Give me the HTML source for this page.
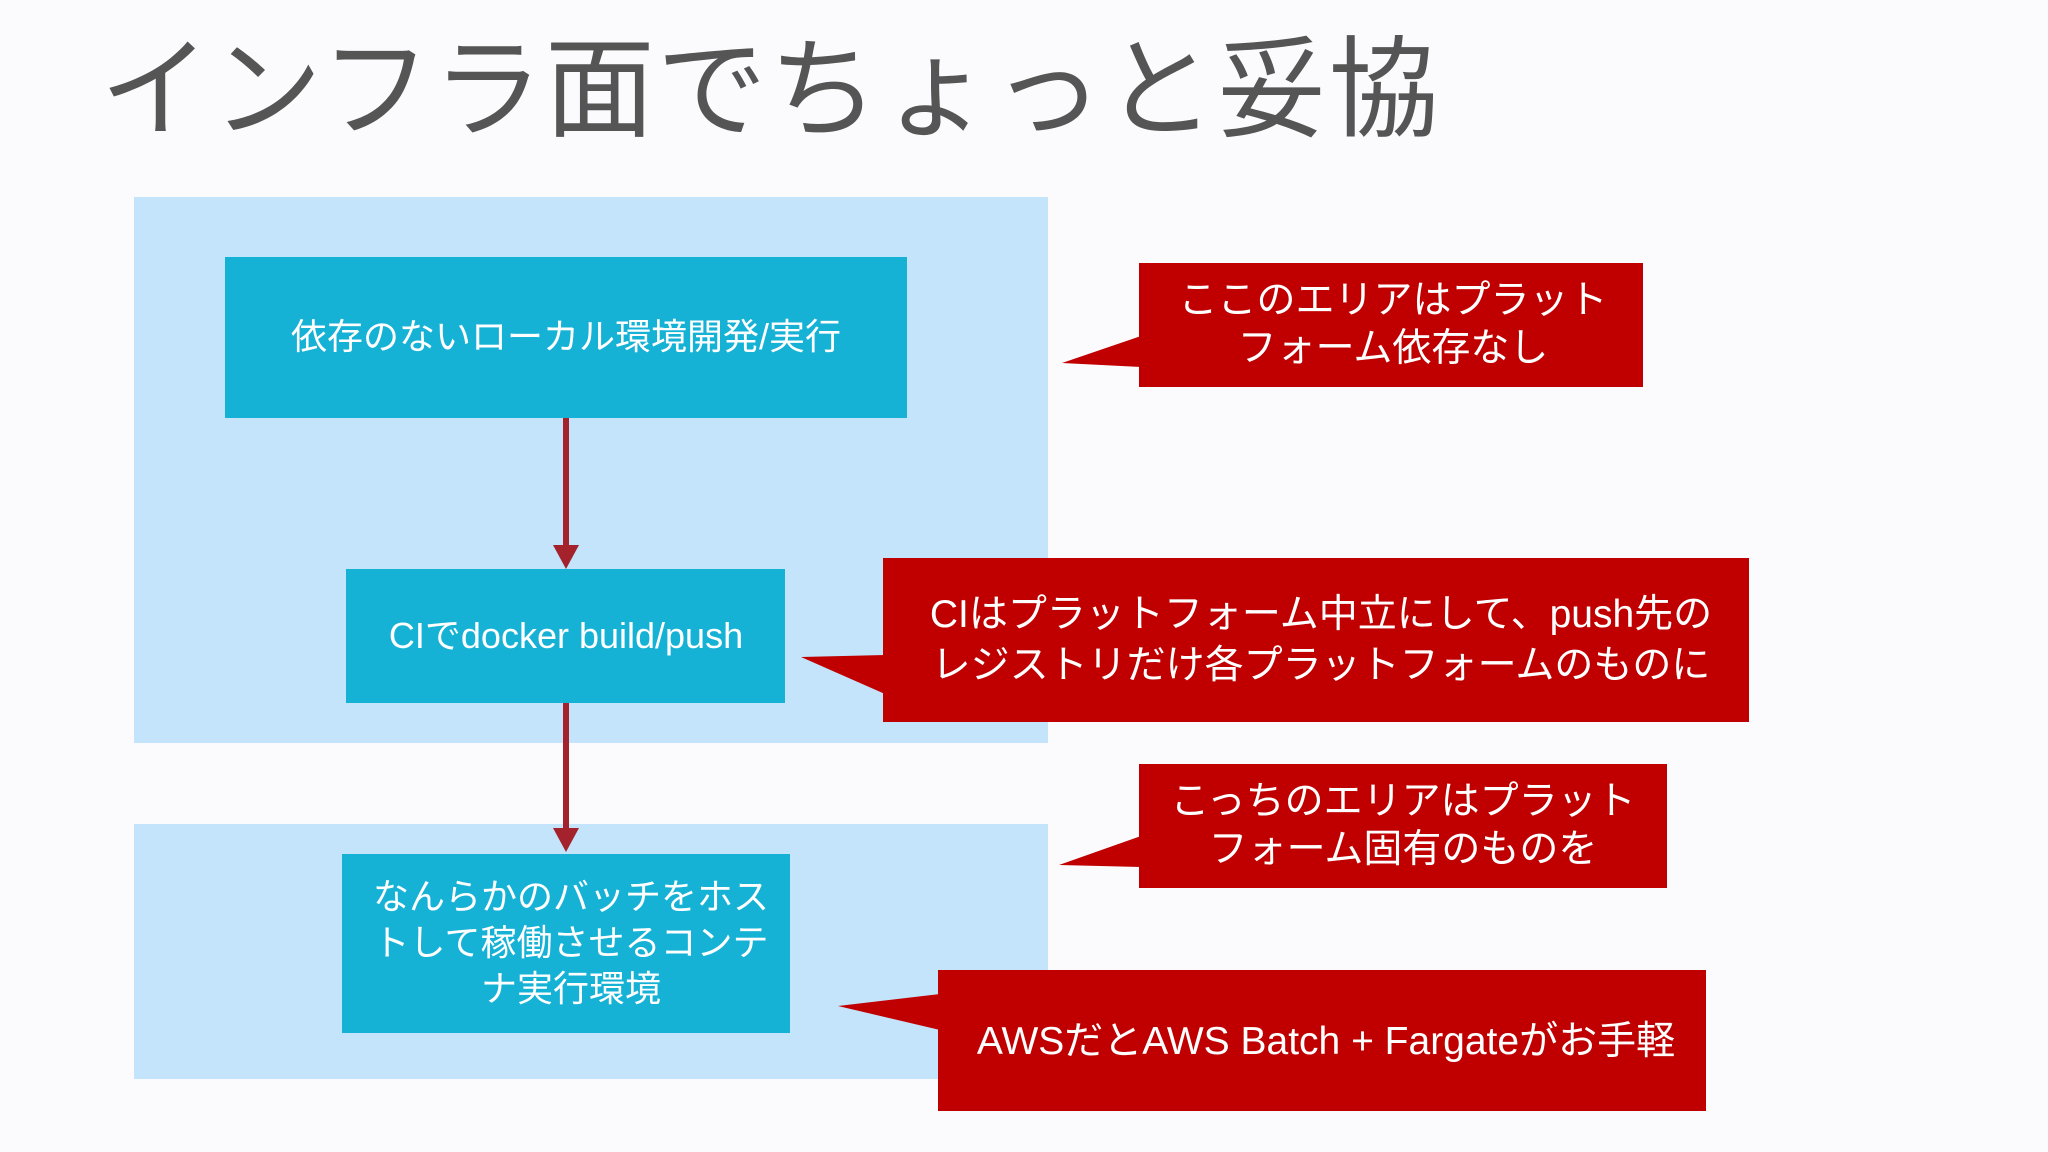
<!DOCTYPE html>
<html><head><meta charset="utf-8"><style>
html,body{margin:0;padding:0;background:#fbfbfd;}
svg{display:block}
text{font-family:"Liberation Sans","Noto Sans CJK JP",sans-serif;}
</style></head><body>
<svg width="2048" height="1152" viewBox="0 0 2048 1152" xmlns="http://www.w3.org/2000/svg">
<rect width="2048" height="1152" fill="#fbfbfd"/>
<text x="100" y="128" font-size="110" fill="#555555" letter-spacing="2">インフラ面でちょっと妥協</text>
<rect x="134" y="197" width="914" height="546" fill="#c3e4fb"/>
<rect x="134" y="824" width="914" height="255" fill="#c3e4fb"/>
<rect x="225" y="257" width="682" height="161" fill="#16b2d6"/>
<text x="566" y="349" font-size="36" fill="#fff" text-anchor="middle">依存のないローカル環境開発/実行</text>
<rect x="346" y="569" width="439" height="134" fill="#16b2d6"/>
<text x="566" y="648" font-size="36" fill="#fff" text-anchor="middle">CIでdocker build/push</text>
<rect x="342" y="854" width="448" height="179" fill="#16b2d6"/>
<text x="571" y="909" font-size="36" fill="#fff" text-anchor="middle">なんらかのバッチをホス</text>
<text x="571" y="955" font-size="36" fill="#fff" text-anchor="middle">トして稼働させるコンテ</text>
<text x="571" y="1001" font-size="36" fill="#fff" text-anchor="middle">ナ実行環境</text>
<line x1="566" y1="418" x2="566" y2="548" stroke="#a4222b" stroke-width="6"/>
<polygon points="553,545 579,545 566,569" fill="#a4222b"/>
<line x1="566" y1="703" x2="566" y2="830" stroke="#a4222b" stroke-width="6"/>
<polygon points="553,828 579,828 566,852" fill="#a4222b"/>
<g fill="#c00000">
<rect x="1139" y="263" width="504" height="124"/>
<polygon points="1062,363 1141,336 1141,367"/>
<rect x="883" y="558" width="866" height="164"/>
<polygon points="801,657 885,655 885,694"/>
<rect x="1139" y="764" width="528" height="124"/>
<polygon points="1059,865 1141,836 1141,867"/>
<rect x="938" y="970" width="768" height="141"/>
<polygon points="838,1006 940,994 940,1030"/>
</g>
<g fill="#fff" font-size="39" text-anchor="middle">
<text x="1393" y="313">ここのエリアはプラット</text>
<text x="1393" y="361">フォーム依存なし</text>
<text x="1321" y="627">CIはプラットフォーム中立にして、push先の</text>
<text x="1321" y="678">レジストリだけ各プラットフォームのものに</text>
<text x="1403" y="814">こっちのエリアはプラット</text>
<text x="1403" y="862">フォーム固有のものを</text>
<text x="1326" y="1054">AWSだとAWS Batch + Fargateがお手軽</text>
</g>
</svg>
</body></html>
